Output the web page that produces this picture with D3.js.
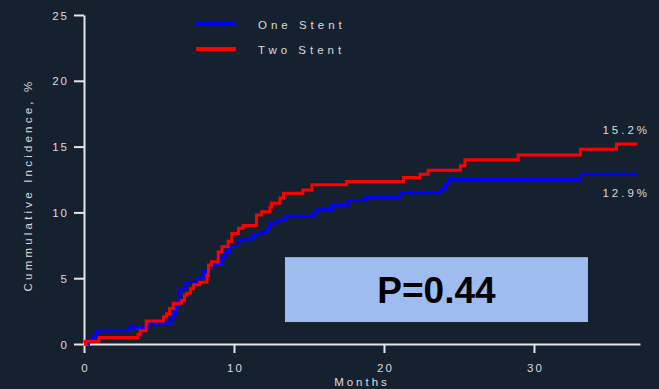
<!DOCTYPE html>
<html><head><meta charset="utf-8">
<script src="https://cdn.jsdelivr.net/npm/d3@7"></script>
<style>
html,body{margin:0;padding:0;background:#162130;}
svg{display:block;}
text{font-family:"Liberation Sans",Arial,sans-serif;}
</style></head>
<body>
<svg id="c" width="659" height="389"></svg>
<script>
const seriesNames = ["One Stent", "Two Stent"];
const seriesColors = ["#0000ff", "#ff0000"];
const xTicks = [0, 10, 20, 30];
const yTicks = [0, 5, 10, 15, 20, 25];
const oneStentMonths = [0, 0.3, 0.6, 0.9, 3.0, 4.2, 5.75, 5.95, 6.1, 6.25, 6.4, 6.8, 7.5, 7.95, 8.3, 8.7, 9.2, 9.4, 9.7, 10.3, 10.8, 11.3, 11.8, 12.2, 12.4, 12.85, 13.4, 15.3, 15.5, 16.5, 17.6, 18.8, 21.1, 23.8, 24.1, 24.3, 33.1, 36.9];
const oneStentPct    = [0, 0.3, 0.6, 1.0, 1.27, 1.57, 1.9, 2.3, 2.8, 3.3, 4.2, 4.7, 5.0, 5.5, 5.9, 6.1, 6.6, 7.0, 7.4, 7.9, 8.0, 8.3, 8.5, 8.8, 9.2, 9.4, 9.7, 9.9, 10.2, 10.55, 10.9, 11.15, 11.5, 11.8, 12.15, 12.5, 12.9, 12.9];
const twoStentMonths = [0, 0.1, 1.0, 3.6, 3.75, 4.15, 5.3, 5.5, 5.7, 5.95, 6.5, 6.7, 6.85, 7.1, 7.3, 7.7, 8.2, 8.3, 8.5, 8.95, 9.2, 9.6, 9.85, 10.3, 10.6, 11.5, 11.85, 12.4, 12.5, 13.07, 13.3, 14.6, 15.2, 17.5, 21.3, 22.4, 22.95, 25.1, 25.4, 28.95, 33.1, 35.5, 36.9];
const twoStentPct    = [0, 0.2, 0.5, 0.75, 1.0, 1.75, 2.07, 2.3, 2.7, 3.1, 3.3, 3.7, 3.85, 4.2, 4.5, 4.7, 5.2, 6.0, 6.25, 7.0, 7.4, 7.8, 8.4, 8.8, 9.0, 9.8, 10.05, 10.4, 10.7, 11.1, 11.45, 11.7, 12.1, 12.35, 12.65, 12.9, 13.2, 13.55, 14.0, 14.36, 14.8, 15.2, 15.2];
const endLabels = ["12.9%", "15.2%"];
const pLabel = "P=0.44";
const xTitle = "Months";
const yTitle = "Cummulative Incidence, %";

const svg = d3.select("#c");
const axisColor = "#e6e6e6";
const textColor = "#dcdcdc";

const x = d3.scaleLinear().domain([0, 37.07]).range([84, 640]);
const y = d3.scaleLinear().domain([0, 25]).range([344, 15]);

// P box (behind curves)
svg.append("rect").attr("x", x(13.4)).attr("y", y(6.6)).attr("width", x(33.6) - x(13.4)).attr("height", y(1.67) - y(6.6)).attr("fill", "#9fbcf0");
svg.append("text").attr("x", x(23.5)).attr("y", 303).attr("text-anchor", "middle")
  .attr("font-size", 37).attr("font-weight", "bold").attr("fill", "#000").text(pLabel);

// axes
const xAxis = svg.append("g").attr("transform", `translate(0,${y(0)})`)
  .call(d3.axisBottom(x).tickValues(xTicks).tickSize(9).tickSizeOuter(0).tickFormat(d3.format("d")));
const yAxis = svg.append("g").attr("transform", `translate(${x(0)},0)`)
  .call(d3.axisLeft(y).tickValues(yTicks).tickSize(10).tickSizeOuter(0).tickFormat(d3.format("d")));
[xAxis, yAxis].forEach(g => {
  g.selectAll("path.domain").attr("stroke", axisColor).attr("stroke-width", 2);
  g.selectAll(".tick line").attr("stroke", axisColor).attr("stroke-width", 2);
  g.selectAll(".tick text").attr("fill", textColor).attr("font-size", 11.5)
    .attr("font-family", "'Liberation Sans',Arial,sans-serif").style("letter-spacing", "2px");
});
xAxis.selectAll(".tick text").attr("dy", "0").attr("y", 28).attr("dx", "1px");
yAxis.selectAll(".tick text").attr("x", -15).attr("dy", "0.35em");

// curves
const line = d3.line().x(d => x(d[0])).y(d => y(d[1])).curve(d3.curveStepAfter);
const series = [
  d3.zip(oneStentMonths, oneStentPct),
  d3.zip(twoStentMonths, twoStentPct)
];
series.forEach((s, i) => {
  svg.append("path").datum(s).attr("d", line).attr("fill", "none")
    .attr("stroke", seriesColors[i]).attr("stroke-width", 3);
});

// end labels
svg.append("text").attr("x", 650).attr("y", 134).attr("text-anchor", "end")
  .attr("fill", textColor).attr("font-size", 11.5).style("letter-spacing", "3px").text(endLabels[1]);
svg.append("text").attr("x", 650).attr("y", 197).attr("text-anchor", "end")
  .attr("fill", textColor).attr("font-size", 11.5).style("letter-spacing", "3px").text(endLabels[0]);

// legend
const legY = [24, 49];
seriesNames.forEach((n, i) => {
  svg.append("line").attr("x1", 196).attr("x2", 236).attr("y1", legY[i]).attr("y2", legY[i])
    .attr("stroke", seriesColors[i]).attr("stroke-width", 4);
  svg.append("text").attr("x", 258).attr("y", legY[i] + 5).attr("fill", textColor)
    .attr("font-size", 11.5).style("letter-spacing", "4px").text(n);
});

// titles
svg.append("text").attr("x", 362).attr("y", 386).attr("text-anchor", "middle")
  .attr("fill", textColor).attr("font-size", 11.5).style("letter-spacing", "3px").text(xTitle);
svg.append("text").attr("transform", "translate(32,185) rotate(-90)").attr("text-anchor", "middle")
  .attr("fill", textColor).attr("font-size", 11.5).style("letter-spacing", "3.2px").text(yTitle);
</script>
</body></html>
